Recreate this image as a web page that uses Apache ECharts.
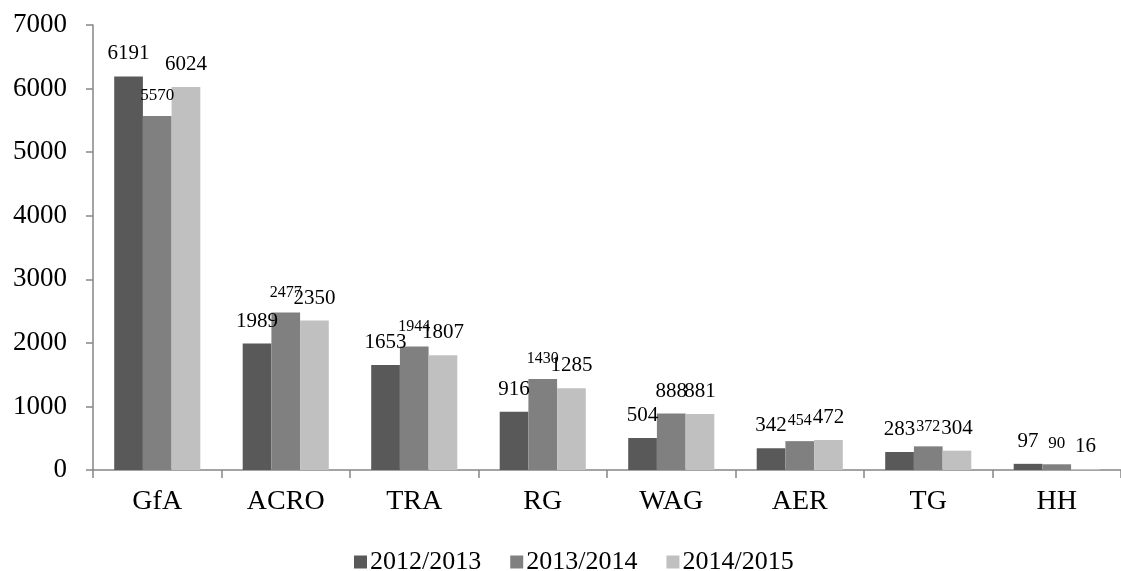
<!DOCTYPE html>
<html>
<head>
<meta charset="utf-8">
<script src="https://cdn.jsdelivr.net/npm/echarts@6/dist/echarts.min.js"></script>
<style>
html,body{margin:0;padding:0;background:#fff;}
#chart{width:1121px;height:571px;}
</style>
</head>
<body>
<div id="chart"></div>
<script>
const categories = ['GfA', 'ACRO', 'TRA', 'RG', 'WAG', 'AER', 'TG', 'HH'];
const seriesNames = ['2012/2013', '2013/2014', '2014/2015'];
const values2012 = [6191, 1989, 1653, 916, 504, 342, 283, 97];
const values2013 = [5570, 2477, 1944, 1430, 888, 454, 372, 90];
const values2014 = [6024, 2350, 1807, 1285, 881, 472, 304, 16];
const yTicks = [0, 1000, 2000, 3000, 4000, 5000, 6000, 7000];

// style-only: label font sizes for the middle series (some are drawn smaller)
const midLabelSizes = [17, 16, 16, 16, 21, 16, 16, 17];

const FONT = '"Liberation Serif", "Times New Roman", serif';
const colors = ['#595959', '#808080', '#c0c0c0'];

function makeSeries(name, vals, color, sizes) {
  return {
    name: name,
    type: 'bar',
    barGap: '0%',
    barCategoryGap: '33%',
    itemStyle: { color: color },
    label: {
      show: true,
      position: 'top',
      distance: 12,
      fontFamily: FONT,
      fontSize: 21,
      color: '#000'
    },
    data: vals.map((v, i) => sizes ? { value: v, label: { fontSize: sizes[i] } } : v)
  };
}

const chart = echarts.init(document.getElementById('chart'));
chart.setOption({
  animation: false,
  backgroundColor: '#fff',
  textStyle: { fontFamily: FONT },
  grid: { left: 93, right: 0, top: 25, bottom: 101, containLabel: false },
  legend: {
    data: seriesNames,
    left: 349,
    top: 544,
    itemWidth: 13,
    itemHeight: 13,
    itemGap: 29,
    icon: 'rect',
    textStyle: { fontFamily: FONT, fontSize: 26, color: '#000', padding: [0, 0, 0, -2] }
  },
  xAxis: {
    type: 'category',
    data: categories,
    axisLine: { lineStyle: { color: '#868686', width: 1.5 } },
    axisTick: { show: true, length: 8, lineStyle: { color: '#868686', width: 1.5 } },
    axisLabel: { fontFamily: FONT, fontSize: 28, color: '#000', margin: 18 }
  },
  yAxis: {
    type: 'value',
    min: yTicks[0],
    max: yTicks[yTicks.length - 1],
    interval: 1000,
    axisLine: { show: true, lineStyle: { color: '#868686', width: 1.5 } },
    axisTick: { show: true, length: 7, lineStyle: { color: '#868686', width: 1.5 } },
    splitLine: { show: false },
    axisLabel: {
      fontFamily: FONT, fontSize: 27, color: '#000', margin: 26,
      formatter: v => String(v)
    }
  },
  series: [
    makeSeries(seriesNames[0], values2012, colors[0]),
    makeSeries(seriesNames[1], values2013, colors[1], midLabelSizes),
    makeSeries(seriesNames[2], values2014, colors[2])
  ]
});
</script>
</body>
</html>
